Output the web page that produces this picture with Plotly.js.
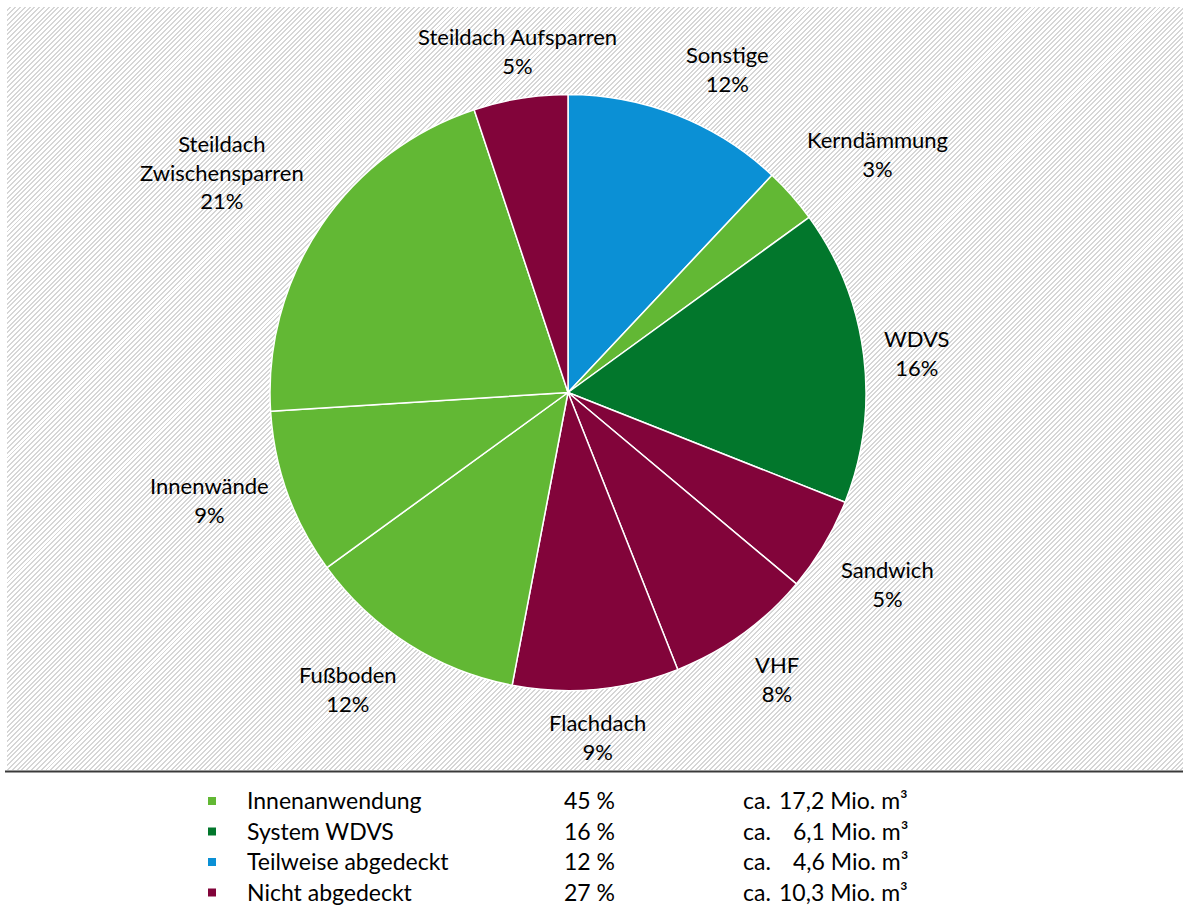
<!DOCTYPE html>
<html>
<head>
<meta charset="utf-8">
<script src="https://cdn.plot.ly/plotly-3.0.1.min.js"></script>
<style>
  html, body { margin: 0; padding: 0; background: #ffffff; }
  #wrap { position: relative; width: 1183px; height: 910px; overflow: hidden; }
  #hatch {
    position: absolute; left: 7px; top: 7px; width: 1176px; height: 763px;
    background: repeating-linear-gradient(135deg, #ffffff 0px, #ffffff 2px, #d6d6d6 2px, #d6d6d6 3.4px);
  }
  #chart { position: absolute; left: 0; top: 0; width: 1183px; height: 910px; }
</style>
</head>
<body>
<div id="wrap">
  <div id="hatch"></div>
  <div id="chart"></div>
</div>
<script>
// ---- data ----
const sliceLabels = ['Sonstige', 'Kerndämmung', 'WDVS', 'Sandwich', 'VHF', 'Flachdach',
                     'Fußboden', 'Innenwände', 'Steildach<br>Zwischensparren', 'Steildach Aufsparren'];
const sliceValues = [12.0, 3.0, 16.0, 5.1, 7.9, 9.0, 12.0, 9.0, 20.9, 5.1];
const sliceGroups = ['Teilweise abgedeckt', 'Innenanwendung', 'System WDVS', 'Nicht abgedeckt',
                     'Nicht abgedeckt', 'Nicht abgedeckt', 'Innenanwendung', 'Innenanwendung',
                     'Innenanwendung', 'Nicht abgedeckt'];

const groupNames   = ['Innenanwendung', 'System WDVS', 'Teilweise abgedeckt', 'Nicht abgedeckt'];
const groupShares  = [45, 16, 12, 27];
const groupVolumes = [17.2, 6.1, 4.6, 10.3];
const groupColors  = {
  'Innenanwendung': '#62b834',
  'System WDVS': '#02772c',
  'Teilweise abgedeckt': '#0b90d5',
  'Nicht abgedeckt': '#82043a'
};

// ---- layout constants ----
const W = 1183, H = 910;
const cx = 568, cy = 392.5, R = 298;
const labelFont = 'Lato, "Liberation Sans", sans-serif';

const total = sliceValues.reduce((a, b) => a + b, 0);

const pie = {
  type: 'pie',
  labels: sliceLabels,
  values: sliceValues,
  sort: false,
  direction: 'clockwise',
  rotation: 0,
  textinfo: 'none',
  hoverinfo: 'skip',
  marker: {
    colors: sliceGroups.map(g => groupColors[g]),
    line: { color: '#ffffff', width: 1.5 }
  },
  domain: {
    x: [(cx - R) / W, (cx + R) / W],
    y: [1 - (cy + R) / H, 1 - (cy - R) / H]
  }
};

// slice labels placed around the pie from the cumulative angles
const annotations = [];
let cum = 0;
const gap = 18;
sliceValues.forEach((v, i) => {
  const mid = 2 * Math.PI * (cum + v / 2) / total;
  cum += v;
  const s = Math.sin(mid), c = Math.cos(mid);
  const px = cx + (R + gap) * s;
  const py = cy - (R + gap) * c;
  const pct = Math.round(100 * v / total) + '%';
  annotations.push({
    xref: 'paper', yref: 'paper',
    x: px / W, y: 1 - py / H,
    text: sliceLabels[i] + '<br>' + pct,
    showarrow: false,
    align: 'center',
    xanchor: s > 0.3 ? 'left' : (s < -0.3 ? 'right' : 'center'),
    yanchor: c > 0.4 ? 'bottom' : (c < -0.4 ? 'top' : 'middle'),
    font: { family: labelFont, size: 22, color: '#000000' }
  });
});

// legend table below the chart
const shapes = [];
const rowY0 = 800, rowStep = 30.5;
groupNames.forEach((g, i) => {
  const y = 1 - (rowY0 + i * rowStep) / H;
  const common = { xref: 'paper', yref: 'paper', y: y, yanchor: 'middle', showarrow: false,
                   font: { family: labelFont, size: 23, color: '#000000' } };
  annotations.push(Object.assign({}, common, { x: 245 / W, xanchor: 'left', text: g }));
  annotations.push(Object.assign({}, common, { x: 562 / W, xanchor: 'left', text: groupShares[i] + '\u00a0%' }));
  annotations.push(Object.assign({}, common, { x: 741 / W, xanchor: 'left', text: 'ca.' }));
  annotations.push(Object.assign({}, common, { x: 910 / W, xanchor: 'right',
    text: groupVolumes[i].toFixed(1).replace('.', ',') + ' Mio. m³' }));
  const sy = rowY0 + i * rowStep + 1;
  shapes.push({
    type: 'rect', xref: 'paper', yref: 'paper',
    x0: 208 / W, x1: 216 / W, y0: 1 - (sy + 4) / H, y1: 1 - (sy - 4) / H,
    fillcolor: groupColors[g], line: { width: 0 }
  });
});

// separator line under the chart area
shapes.push({
  type: 'line', xref: 'paper', yref: 'paper',
  x0: 5 / W, x1: 1, y0: 1 - 771.5 / H, y1: 1 - 771.5 / H,
  line: { color: '#3a3a3a', width: 2 }
});

const layout = {
  width: W, height: H,
  margin: { l: 0, r: 0, t: 0, b: 0 },
  paper_bgcolor: 'rgba(0,0,0,0)',
  plot_bgcolor: 'rgba(0,0,0,0)',
  showlegend: false,
  annotations: annotations,
  shapes: shapes
};

Plotly.newPlot('chart', [pie], layout, { staticPlot: true, displayModeBar: false });
</script>
</body>
</html>
